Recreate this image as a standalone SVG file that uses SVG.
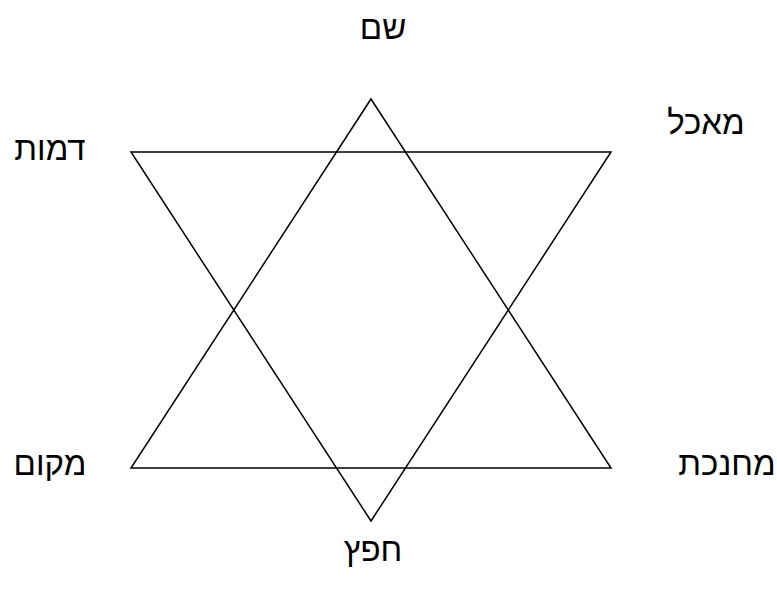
<svg xmlns="http://www.w3.org/2000/svg" width="777" height="597" viewBox="0 0 777 597">
<style>
.t{font-family:"Liberation Sans","DejaVu Sans",sans-serif;font-size:33px;fill:#000;text-anchor:middle}
.l{fill:none;stroke:#000;stroke-width:1.5;stroke-linejoin:miter}
</style>
<rect width="777" height="597" fill="#fff"/>
<g id="connectors">
<polygon class="l" points="371,99 611,468 131,468"/>
<polygon class="l" points="131,152 611,152 371,521"/>
</g>
<g id="n-shem"><text class="t" x="383" y="39">שם</text></g>
<g id="n-maakhal"><text class="t" x="706" y="134">מאכל</text></g>
<g id="n-dmut"><text class="t" x="50" y="160">דמות</text></g>
<g id="n-makom"><text class="t" x="50" y="475">מקום</text></g>
<g id="n-mehanekhet"><text class="t" x="727" y="475">מחנכת</text></g>
<g id="n-hefetz"><text class="t" x="373" y="561">חפץ</text></g>
</svg>
